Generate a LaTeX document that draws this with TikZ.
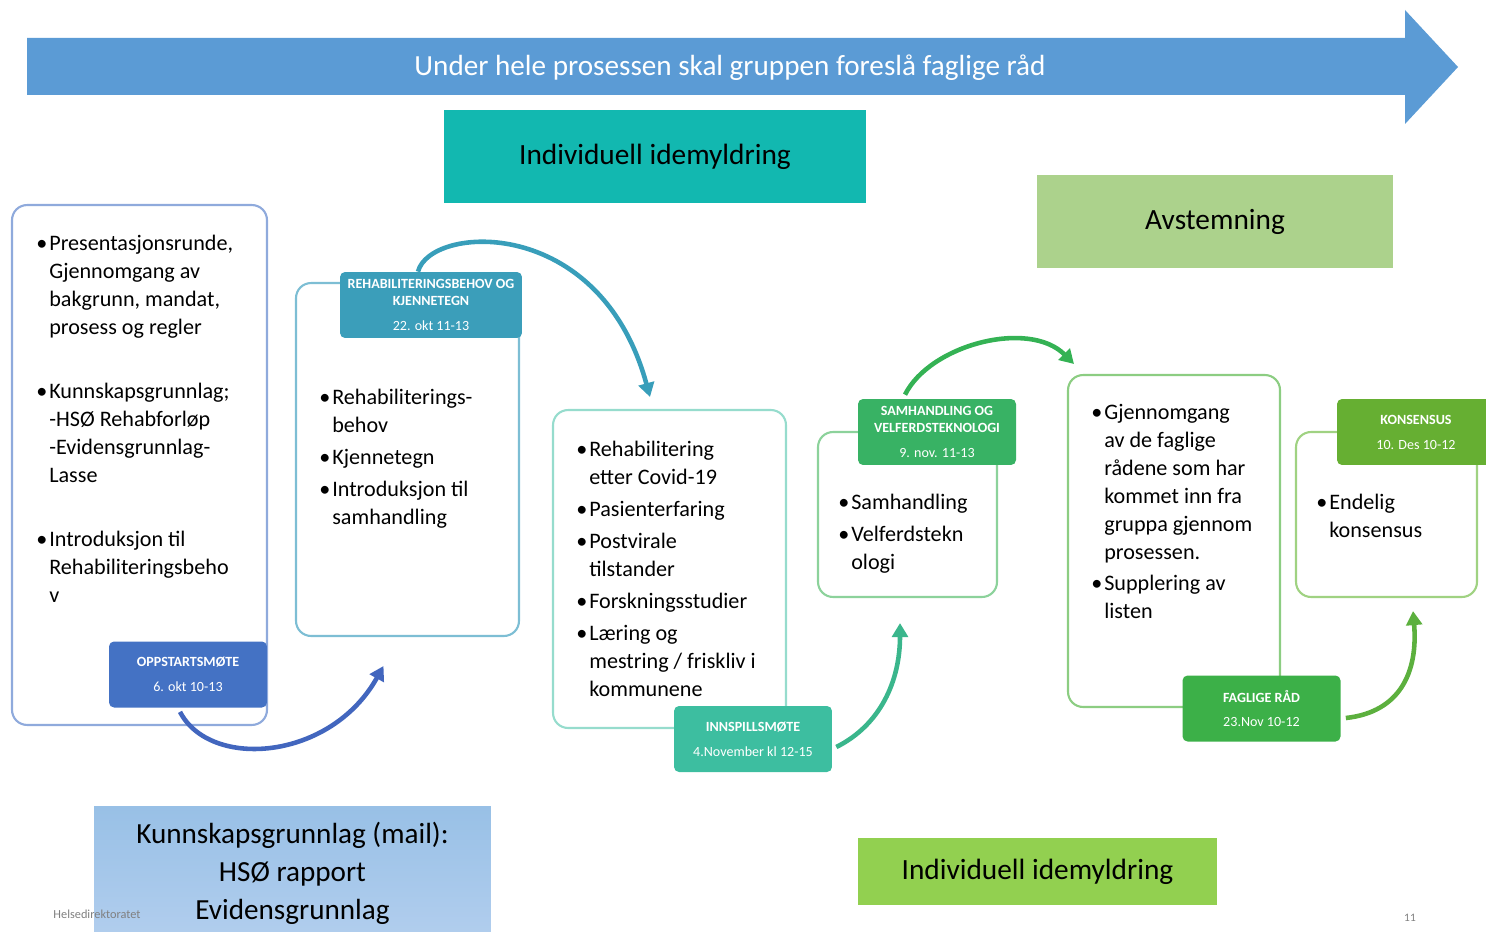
\documentclass[tikz,border=0pt]{standalone}
\usepackage{fontspec}
\setmainfont{Carlito}
\usepackage{tikz}
\usetikzlibrary{arrows.meta,positioning,calc}
\definecolor{bannerblue}{RGB}{91,155,213}
\definecolor{headteal}{RGB}{18,184,176}
\definecolor{headlime}{RGB}{172,210,140}
\definecolor{headgreen}{RGB}{146,208,80}
\definecolor{infotop}{RGB}{152,192,230}
\definecolor{infobot}{RGB}{178,206,238}
\definecolor{tabA}{RGB}{68,114,196}
\definecolor{tabB}{RGB}{59,158,186}
\definecolor{tabC}{RGB}{61,190,160}
\definecolor{tabD}{RGB}{56,178,100}
\definecolor{tabE}{RGB}{60,176,72}
\definecolor{tabF}{RGB}{102,175,50}
\definecolor{edgeA}{RGB}{143,170,220}
\definecolor{edgeB}{RGB}{125,190,212}
\definecolor{edgeC}{RGB}{150,220,205}
\definecolor{edgeD}{RGB}{140,210,155}
\definecolor{edgeE}{RGB}{140,205,130}
\definecolor{edgeF}{RGB}{160,210,130}
\definecolor{bendA}{RGB}{66,102,190}
\definecolor{bendB}{RGB}{56,158,186}
\definecolor{bendC}{RGB}{58,182,140}
\definecolor{bendD}{RGB}{52,178,84}
\definecolor{bendE}{RGB}{92,176,62}
\newcommand{\bodyfont}{\fontsize{12.6}{15.9}\selectfont}
\newcommand{\headfont}{\fontsize{16.7}{20}\selectfont}
\newcommand{\tabfont}{\fontsize{8}{9.6}\selectfont}
\newcommand{\bl}{\makebox[0.26cm][l]{\textbullet}}
\newcommand{\bc}{\hspace*{0.26cm}}
\tikzset{
  box/.style={draw, rounded corners=0.3cm, line width=1.2pt, fill=white, inner sep=0pt},
  tab/.style={rounded corners=0.1cm, text=white, align=center, minimum width=3.16cm,
    minimum height=1.32cm, inner sep=0pt, font=\tabfont},
  heading/.style={minimum height=1.86cm, inner sep=0pt, font=\headfont},
  bullets/.style={anchor=north west, inner sep=0pt, align=left, font=\bodyfont},
  flowarc/.style={line width=2.6pt, -{Triangle[length=8pt,width=9pt]}},
}

\begin{document}
\begin{tikzpicture}[x=0.02cm,y=-0.02cm]
\useasboundingbox (0,0) rectangle (1486,932);

% banner arrow
\fill[bannerblue] (27,38) -- (1405,38) -- (1405,10) -- (1458,67) -- (1405,124) -- (1405,95) -- (27,95) -- cycle;
\node[text=white, font=\fontsize{16.6}{19}\selectfont] (banner) at (730,68) {Under hele prosessen skal gruppen foreslå faglige råd};

% headings
\node[heading, fill=headteal, minimum width=8.44cm] (idea1) at (655,156.5) {Individuell idemyldring};
\node[heading, fill=headlime, minimum width=7.12cm] (vote) at (1215,221.5) {Avstemning};
\node[top color=infotop, bottom color=infobot, minimum width=7.94cm, minimum height=2.68cm,
  align=center, font=\fontsize{16.6}{21.6}\selectfont] (basis) at (292.5,873)
  {Kunnskapsgrunnlag (mail):\\HSØ rapport\\Evidensgrunnlag};
\node[fill=headgreen, minimum width=7.18cm, minimum height=1.34cm, font=\headfont] (idea2) at (1037.5,871.5) {Individuell idemyldring};

% meeting boxes
\node[box, draw=edgeA, minimum width=5.1cm, minimum height=10.4cm] (box1) at (139.5,465) {};
\node[box, draw=edgeB, minimum width=4.46cm, minimum height=7.06cm] (box2) at (407.5,459.5) {};
\node[box, draw=edgeC, minimum width=4.66cm, minimum height=6.36cm] (box3) at (669.5,569) {};
\node[box, draw=edgeD, minimum width=3.58cm, minimum height=3.3cm] (box4) at (907.5,514.5) {};
\node[box, draw=edgeE, minimum width=4.24cm, minimum height=6.64cm] (box5) at (1174,541) {};
\node[box, draw=edgeF, minimum width=3.62cm, minimum height=3.3cm] (box6) at (1386.5,514.5) {};

\node[bullets] (list1) at ($(box1.north west)+(25,31)$) {%
  \bl Presentasjonsrunde,\\ \bc Gjennomgang av\\ \bc bakgrunn, mandat,\\ \bc prosess og regler\\[0.72cm]
  \bl Kunnskapsgrunnlag;\\ \bc -HSØ Rehabforløp\\ \bc -Evidensgrunnlag-\\ \bc Lasse\\[0.72cm]
  \bl Introduksjon til\\ \bc Rehabiliteringsbeho\\ \bc v};
\node[bullets] (list2) at ($(box2.north west)+(24,107)$) {%
  \bl Rehabiliterings-\\ \bc behov\\[0.08cm]
  \bl Kjennetegn\\[0.08cm]
  \bl Introduksjon til\\ \bc samhandling};
\node[bullets] (list3) at ($(box3.north west)+(24,32)$) {%
  \bl Rehabilitering\\ \bc etter Covid-19\\[0.08cm]
  \bl Pasienterfaring\\[0.08cm]
  \bl Postvirale\\ \bc tilstander\\[0.08cm]
  \bl Forskningsstudier\\[0.08cm]
  \bl Læring og\\ \bc mestring / friskliv i\\ \bc kommunene};
\node[bullets] (list4) at ($(box4.north west)+(21,63)$) {%
  \bl Samhandling\\[0.08cm]
  \bl Velferdstekn\\ \bc ologi};
\node[bullets] (list5) at ($(box5.north west)+(24,30)$) {%
  \bl Gjennomgang\\ \bc av de faglige\\ \bc rådene som har\\ \bc kommet inn fra\\ \bc gruppa gjennom\\ \bc prosessen.\\[0.06cm]
  \bl Supplering av\\ \bc listen};
\node[bullets] (list6) at ($(box6.north west)+(21,63)$) {%
  \bl Endelig\\ \bc konsensus};

% date tabs
\node[tab, fill=tabA] (tab1) at (188,674.5) {\textbf{OPPSTARTSMØTE}\\[4.6pt] 6. okt 10-13};
\node[tab, fill=tabB, minimum width=3.64cm] (tab2) at (431,305) {\textbf{REHABILITERINGSBEHOV OG}\\ \textbf{KJENNETEGN}\\[4.6pt] 22. okt 11-13};
\node[tab, fill=tabC] (tab3) at (753,739) {\textbf{INNSPILLSMØTE}\\[4.6pt] 4.November kl 12-15};
\node[tab, fill=tabD] (tab4) at (937,432) {\textbf{SAMHANDLING OG}\\ \textbf{VELFERDSTEKNOLOGI}\\[4.6pt] 9. nov. 11-13};
\node[tab, fill=tabE] (tab5) at (1261.5,708.5) {\textbf{FAGLIGE RÅD}\\[4.6pt] 23.Nov 10-12};
\node[tab, fill=tabF] (tab6) at (1416,432) {\textbf{KONSENSUS}\\[4.6pt] 10. Des 10-12};

% curved arrows between meetings
\draw[flowarc, bendA] ($(tab1.south)+(-8,4)$) .. controls +(30,58) and +(-53,95) .. ($(box2.south)+(-24,29)$);
\draw[flowarc, bendB] ($(tab2.north)+(-13,0)$) .. controls +(12,-47) and +(-50,-183) .. ($(box3.north)+(-19.5,-12)$);
\draw[flowarc, bendC] ($(tab3.east)+(4,8)$) .. controls +(44,-22) and +(0,58) .. ($(box4.south)+(-7.5,25)$);
\draw[flowarc, bendD] ($(tab4.north)+(-32,-4)$) .. controls +(25,-50) and +(-45,-45) .. ($(box5.north west)+(7,-10)$);
\draw[flowarc, bendE] ($(tab5.east)+(5,9.5)$) .. controls +(55,-6) and +(5,60) .. ($(box6.south)+(26.5,13)$);

% footer
\node[text=gray, font=\fontsize{7}{8}\selectfont] (org) at (97,914) {Helsedirektoratet};
\node[text=gray, font=\fontsize{6.5}{7}\selectfont] (page) at (1410,918) {11};
\end{tikzpicture}
\end{document}
